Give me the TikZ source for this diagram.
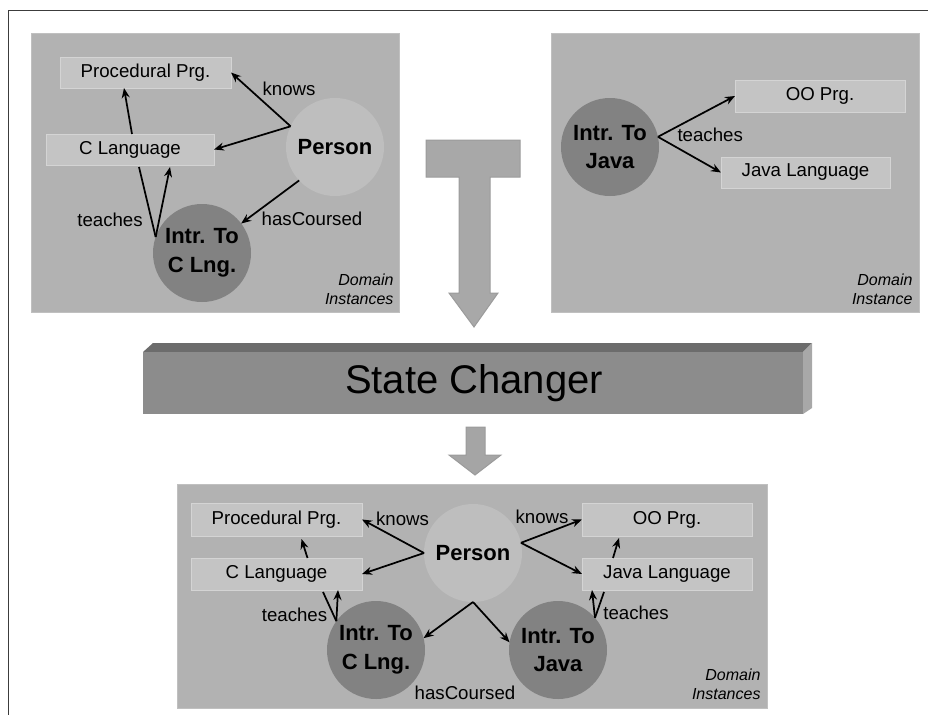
\documentclass[tikz,border=0pt]{standalone}
\usepackage{fontspec}
\setmainfont{Liberation Sans}
\usetikzlibrary{arrows.meta,calc}

\tikzset{every picture/.style={line width=0.75pt}}
\tikzset{
  panel/.style={fill={rgb, 255:red, 178; green, 178; blue, 178 }, draw={rgb, 255:red, 192; green, 192; blue, 192 }},
  concept/.style={rectangle, fill={rgb, 255:red, 196; green, 196; blue, 196 }, draw={rgb, 255:red, 212; green, 212; blue, 212 }, inner sep=0pt, outer sep=0pt, font=\fontsize{14}{17}\selectfont},
  person/.style={circle, fill={rgb, 255:red, 190; green, 190; blue, 190 }, minimum size=73.5pt, inner sep=0pt, outer sep=0pt, font=\bfseries\fontsize{16.5}{20}\selectfont},
  course/.style={circle, fill={rgb, 255:red, 130; green, 130; blue, 130 }, minimum size=73.5pt, inner sep=0pt, outer sep=0pt, align=center, font=\bfseries\fontsize{16.5}{21.5}\selectfont},
  rel/.style={-{Stealth[length=7.5pt,width=6pt]}, line width=1.3pt},
  tie/.style={line width=1.3pt},
  lbl/.style={inner sep=0pt, font=\fontsize{14}{17}\selectfont},
  note/.style={inner sep=0pt, anchor=east, align=right, font=\itshape\fontsize{12}{14.5}\selectfont},
}

\begin{document}
\begin{tikzpicture}[x=0.75pt,y=0.75pt,yscale=-1,xscale=1]
        \useasboundingbox (0,0) rectangle (928,715);
        %Frame
        \draw [color={rgb, 255:red, 60; green, 60; blue, 60 }] (928,10) -- (8,10) -- (8,715) ;

        %Panels
        \draw [panel] (31,33) rectangle (399,312) ;
        \draw [panel] (551,33) rectangle (919,312) ;
        \draw [panel] (177,484) rectangle (767,708) ;

        %Big T arrow
        \draw [fill={rgb, 255:red, 168; green, 168; blue, 168 }, draw={rgb, 255:red, 155; green, 155; blue, 155 }] (426,140) -- (520,140) -- (520,177) -- (490,177) -- (490,293) -- (498,293) -- (474,327) -- (449,293) -- (459,293) -- (459,177) -- (426,177) -- cycle ;

        %State changer bar
        \draw [fill={rgb, 255:red, 108; green, 108; blue, 108 }, draw=none] (143,352) -- (153,343) -- (812,343) -- (803,352) -- cycle ;
        \draw [fill={rgb, 255:red, 168; green, 168; blue, 168 }, draw=none] (803,352) -- (812,343) -- (812,408) -- (803,414) -- cycle ;
        \draw [fill={rgb, 255:red, 140; green, 140; blue, 140 }, draw=none] (143,352) rectangle (803,414) ;
        \node [inner sep=0pt, font=\fontsize{30}{36}\selectfont] (sc) at (474,383) {State Changer};

        %Small arrow
        \draw [fill={rgb, 255:red, 165; green, 165; blue, 165 }, draw={rgb, 255:red, 155; green, 155; blue, 155 }] (466,427) -- (485,427) -- (485,455) -- (501,455) -- (475,475) -- (449,455) -- (466,455) -- cycle ;

        % Top left instances
        \node [concept, minimum width=128.25pt, minimum height=23.25pt] (proc) at (145.5,72.5) {Procedural Prg.};
        \node [concept, minimum width=126pt, minimum height=23.25pt] (clang) at (130,149.5) {C Language};
        \node [person] (per) at (335,147) {Person};
        \node [course] (icl) at (202,253) {Intr. To\\C Lng.};
        \draw [rel] (per.155) -- (proc.east) ;
        \draw [rel] (per.155) -- (clang.east) ;
        \draw [rel] (per.223) -- (icl.37) ;
        \draw [rel] ($(clang.north)+(2,0)$) -- ($(proc.south)+(-21.5,0)$) ;
        \draw [tie] ($(clang.south)+(9,2)$) -- (icl.161) ;
        \draw [rel] (icl.161) -- ($(clang.south)+(40,2)$) ;
        \node [lbl] (kn1) at (289,89) {knows};
        \node [lbl] (hc1) at (312,219) {hasCoursed};
        \node [lbl] (te1) at (110,220) {teaches};
        \node [note] (di1) at (394,289.5) {Domain\\Instances};

        % Top right instance
        \node [concept, minimum width=127.5pt, minimum height=24pt] (oo) at (820,96) {OO Prg.};
        \node [concept, minimum width=126.75pt, minimum height=23.25pt] (jlang) at (805.5,172.5) {Java Language};
        \node [course] (ijv) at (610,147) {Intr. To\\Java};
        \draw [rel] (ijv.12) -- (oo.west) ;
        \draw [rel] (ijv.12) -- (jlang.west) ;
        \node [lbl, anchor=west] (te2) at (677,135) {teaches};
        \node [note] (di2) at (913,289.5) {Domain\\Instance};

        % Bottom instances
        \node [concept, minimum width=128.25pt, minimum height=24.75pt] (procb) at (276.5,519.5) {Procedural Prg.};
        \node [concept, minimum width=128.25pt, minimum height=24pt] (clangb) at (276.5,574) {C Language};
        \node [concept, minimum width=127.5pt, minimum height=24.75pt] (oob) at (667,519.5) {OO Prg.};
        \node [concept, minimum width=127.5pt, minimum height=24pt] (jlangb) at (667,574) {Java Language};
        \node [person] (perb) at (473,553) {Person};
        \node [course] (iclb) at (376,650) {Intr. To\\C Lng.};
        \node [course] (ijvb) at (558,650) {Intr. To\\Java};
        \draw [rel] (perb.180) -- (procb.east) ;
        \draw [rel] (perb.180) -- (clangb.east) ;
        \draw [rel] (perb.12) -- (oob.west) ;
        \draw [rel] (perb.12) -- (jlangb.west) ;
        \draw [rel] (perb.south) -- (iclb.14) ;
        \draw [rel] (perb.south) -- (ijvb.171) ;
        \draw [rel] ($(clangb.north)+(31,0)$) -- ($(procb.south)+(25,3)$) ;
        \draw [rel] ($(jlangb.north)+(-54,0)$) -- ($(oob.south)+(-48,2)$) ;
        \draw [tie] ($(clangb.south)+(46.5,2)$) -- (iclb.144) ;
        \draw [rel] (iclb.144) -- ($(clangb.south)+(61.5,0)$) ;
        \draw [tie] ($(jlangb.south)+(-63,2)$) -- (ijvb.41) ;
        \draw [rel] (ijvb.41) -- ($(jlangb.south)+(-75,0)$) ;
        \node [lbl] (kn2) at (402.5,519) {knows};
        \node [lbl] (kn3) at (542,517) {knows};
        \node [lbl] (te3) at (294.5,615) {teaches};
        \node [lbl] (te4) at (636,613) {teaches};
        \node [lbl] (hc2) at (465,693) {hasCoursed};
        \node [note] (di3) at (761,684.5) {Domain\\Instances};
\end{tikzpicture}
\end{document}
